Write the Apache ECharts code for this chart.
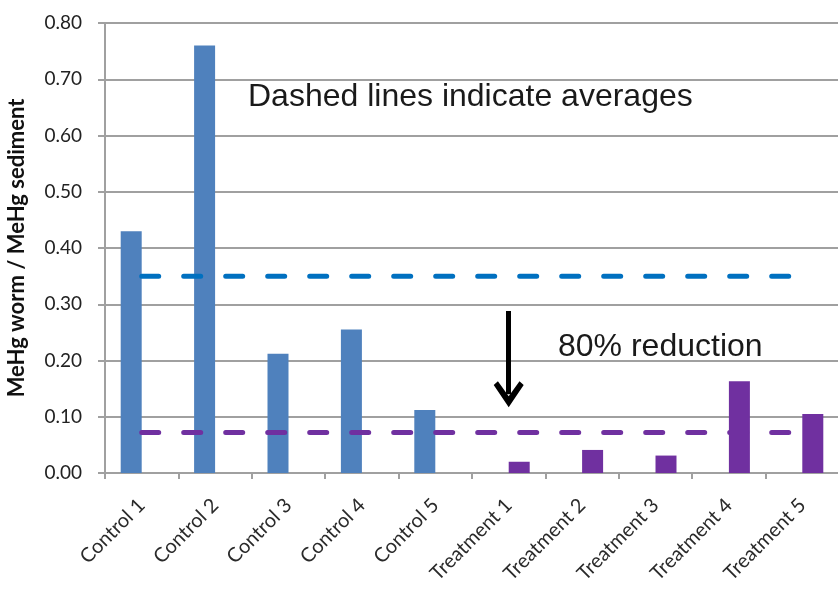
<!DOCTYPE html>
<html>
<head>
<meta charset="utf-8">
<script src="https://cdn.jsdelivr.net/npm/echarts@6/dist/echarts.min.js"></script>
<style>
  html, body { margin: 0; padding: 0; background: #fff; }
  #chart { width: 838px; height: 594px; }
</style>
</head>
<body>
<div id="chart"></div>
<script>
// data
const categories = ['Control 1', 'Control 2', 'Control 3', 'Control 4', 'Control 5',
  'Treatment 1', 'Treatment 2', 'Treatment 3', 'Treatment 4', 'Treatment 5'];
const controlValues = [0.43, 0.76, 0.212, 0.255, 0.112, '-', '-', '-', '-', '-'];
const treatmentValues = ['-', '-', '-', '-', '-', 0.02, 0.041, 0.031, 0.163, 0.105];
const controlAverage = [0.35, 0.35, 0.35, 0.35, 0.35, 0.35, 0.35, 0.35, 0.35, 0.35];
const treatmentAverage = [0.072, 0.072, 0.072, 0.072, 0.072, 0.072, 0.072, 0.072, 0.072, 0.072];
const yTicks = [0, 0.8, 0.1];
const arrowFrom = ['Treatment 1', 0.288];
const arrowTo = ['Treatment 1', 0.14];

const chart = echarts.init(document.getElementById('chart'));
const gridColor = '#a0a0a0';
const labelFont = 'Lato, "Open Sans", sans-serif';

const option = {
  animation: false,
  grid: { left: 105, top: 23, width: 734, bottom: 121, containLabel: false, outerBoundsMode: 'none' },
  xAxis: {
    type: 'category',
    data: categories,
    axisLine: { lineStyle: { color: gridColor, width: 2 } },
    axisTick: { show: true, length: 6, lineStyle: { color: gridColor, width: 2 } },
    axisLabel: { rotate: 45, fontSize: 20, color: '#2a2a2a', fontFamily: labelFont, margin: 29, interval: 0 }
  },
  yAxis: {
    type: 'value',
    min: yTicks[0], max: yTicks[1], interval: yTicks[2],
    name: 'MeHg worm / MeHg sediment',
    nameLocation: 'middle',
    nameGap: 77,
    nameTextStyle: { fontSize: 22, fontWeight: 'bold', color: '#111', fontFamily: labelFont },
    axisLine: { show: true, lineStyle: { color: gridColor, width: 2 } },
    axisTick: { show: true, length: 7, lineStyle: { color: gridColor, width: 2 } },
    splitLine: { lineStyle: { color: gridColor, width: 2 } },
    axisLabel: {
      formatter: v => v.toFixed(2),
      fontSize: 19, color: '#222', fontFamily: labelFont, margin: 23
    }
  },
  series: [
    {
      name: 'Control', type: 'bar', data: controlValues,
      barWidth: 21, barGap: '0%',
      itemStyle: { color: '#4f81bd' }
    },
    {
      name: 'Treatment', type: 'bar', data: treatmentValues,
      barWidth: 21, barGap: '0%',
      itemStyle: { color: '#7030a0' }
    },
    {
      name: 'Control average', type: 'line', data: controlAverage,
      symbol: 'none', z: 5,
      lineStyle: { color: '#0070c0', width: 5, type: [17, 25], cap: 'round' },
      markLine: {
        silent: true,
        symbol: ['none', 'path://M0,8 L5,0 L10,8 L8.6,9.4 L5,4 L1.4,9.4 Z'],
        symbolSize: [30, 26],
        label: { show: false },
        lineStyle: { color: '#000', width: 5, type: 'solid' },
        data: [[{ coord: arrowFrom }, { coord: arrowTo }]]
      }
    },
    {
      name: 'Treatment average', type: 'line', data: treatmentAverage,
      symbol: 'none', z: 5,
      lineStyle: { color: '#7030a0', width: 5, type: [17, 25], cap: 'round' }
    }
  ],
  graphic: [
    {
      type: 'text', x: 248, y: 97,
      style: { text: 'Dashed lines indicate averages', fontSize: 32, fill: '#1a1a1a',
        fontFamily: 'Liberation Sans, Arial, sans-serif', verticalAlign: 'middle' }
    },
    {
      type: 'text', x: 558, y: 347,
      style: { text: '80% reduction', fontSize: 32, fill: '#1a1a1a',
        fontFamily: 'Liberation Sans, Arial, sans-serif', verticalAlign: 'middle' }
    }
  ]
};
chart.setOption(option);
</script>
</body>
</html>
